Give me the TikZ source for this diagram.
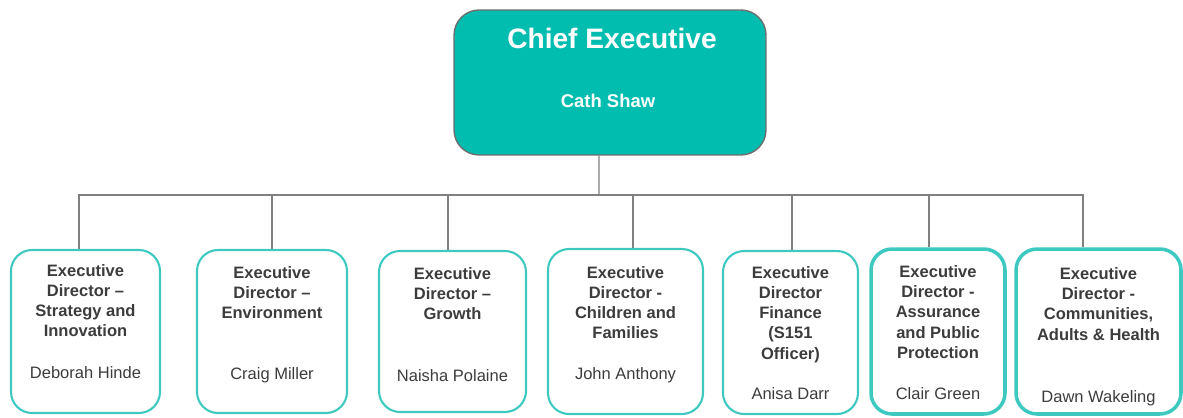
\documentclass[tikz,border=0pt]{standalone}
\usepackage{fontspec}
\setmainfont{Liberation Sans}
\usepackage{tikz}
\definecolor{chiefFill}{RGB}{0,189,176}
\definecolor{chiefEdge}{RGB}{110,110,110}
\definecolor{directorEdge}{RGB}{62,201,192}
\definecolor{linkGray}{RGB}{128,128,128}
\definecolor{textGray}{RGB}{60,60,60}

\begin{document}
\begin{tikzpicture}[
  x=0.02cm, y=-0.02cm,
  chief box/.style={
    draw=chiefEdge, fill=chiefFill,
    rounded corners=0.5cm, line width=0.8pt
  },
  director box/.style={
    draw=directorEdge,
    rounded corners=0.42cm, line width=1.2pt
  },
  strong director box/.style={
    director box, line width=2pt
  },
  role/.style={
    anchor=north, inner sep=0pt, align=center, text=textGray,
    font=\fontsize{9.4}{11.5}\selectfont\bfseries
  },
  person/.style={
    anchor=base, inner sep=0pt, text=textGray,
    font=\fontsize{9.4}{11.5}\selectfont
  },
  link/.style={
    draw=linkGray, line width=0.6pt
  }
]
\useasboundingbox (0,0) rectangle (1183,417);

% chief executive
\node[chief box, minimum width=6.24cm, minimum height=2.9cm] (ce) at (610,82.5) {};
\node[anchor=base, text=white, font=\fontsize{16}{19}\selectfont\bfseries] (ceRole) at (612,48) {Chief Executive};
\node[anchor=base, text=white, font=\fontsize{10.5}{12}\selectfont\bfseries] (cePerson) at (608,107) {Cath Shaw};

% executive directors
\node[director box, minimum width=2.98cm, minimum height=3.26cm] (d1) at (85.5,331.5) {};
\node[director box, minimum width=3.0cm, minimum height=3.26cm] (d2) at (272,331.5) {};
\node[director box, minimum width=2.94cm, minimum height=3.22cm] (d3) at (452.5,331.5) {};
\node[director box, minimum width=3.1cm, minimum height=3.3cm] (d4) at (625.5,331.5) {};
\node[director box, minimum width=2.7cm, minimum height=3.26cm] (d5) at (790.5,332.5) {};
\node[strong director box, minimum width=2.68cm, minimum height=3.3cm] (d6) at (938,331.5) {};
\node[strong director box, minimum width=3.3cm, minimum height=3.3cm] (d7) at (1098.5,331.5) {};

\node[role] (d1Role) at ([yshift=-0.3cm]d1.north) {Executive\\Director –\\Strategy and\\Innovation};
\node[role] (d2Role) at ([yshift=-0.34cm]d2.north) {Executive\\Director –\\Environment};
\node[role] (d3Role) at ([yshift=-0.34cm]d3.north) {Executive\\Director –\\Growth};
\node[role] (d4Role) at ([yshift=-0.36cm]d4.north) {Executive\\Director -\\Children and\\Families};
\node[role] (d5Role) at ([yshift=-0.32cm]d5.north) {Executive\\Director\\Finance\\(S151\\Officer)};
\node[role] (d6Role) at ([yshift=-0.36cm]d6.north) {Executive\\Director -\\Assurance\\and Public\\Protection};
\node[role] (d7Role) at ([yshift=-0.4cm]d7.north) {Executive\\Director -\\Communities,\\Adults \& Health};

\node[person] (d1Person) at ([yshift=0.72cm]d1.south) {Deborah Hinde};
\node[person] (d2Person) at ([yshift=0.70cm]d2.south) {Craig Miller};
\node[person] (d3Person) at ([yshift=0.64cm]d3.south) {Naisha Polaine};
\node[person] (d4Person) at ([yshift=0.72cm]d4.south) {John Anthony};
\node[person] (d5Person) at ([yshift=0.32cm]d5.south) {Anisa Darr};
\node[person] (d6Person) at ([yshift=0.32cm]d6.south) {Clair Green};
\node[person] (d7Person) at ([yshift=0.26cm]d7.south) {Dawn Wakeling};

% reporting lines
\coordinate (bus) at (599,195);
\draw[link] ([xshift=-0.22cm]ce.south) -- (bus);
\draw[link] (bus) -| ([xshift=-0.13cm]d1.north);
\draw[link] (bus) -| (d2.north);
\draw[link] (bus) -| ([xshift=-0.09cm]d3.north);
\draw[link] (bus) -| ([xshift=0.15cm]d4.north);
\draw[link] (bus) -| ([xshift=0.03cm]d5.north);
\draw[link] (bus) -| ([xshift=-0.18cm]d6.north);
\draw[link] (bus) -| ([xshift=-0.31cm]d7.north);
\end{tikzpicture}
\end{document}
